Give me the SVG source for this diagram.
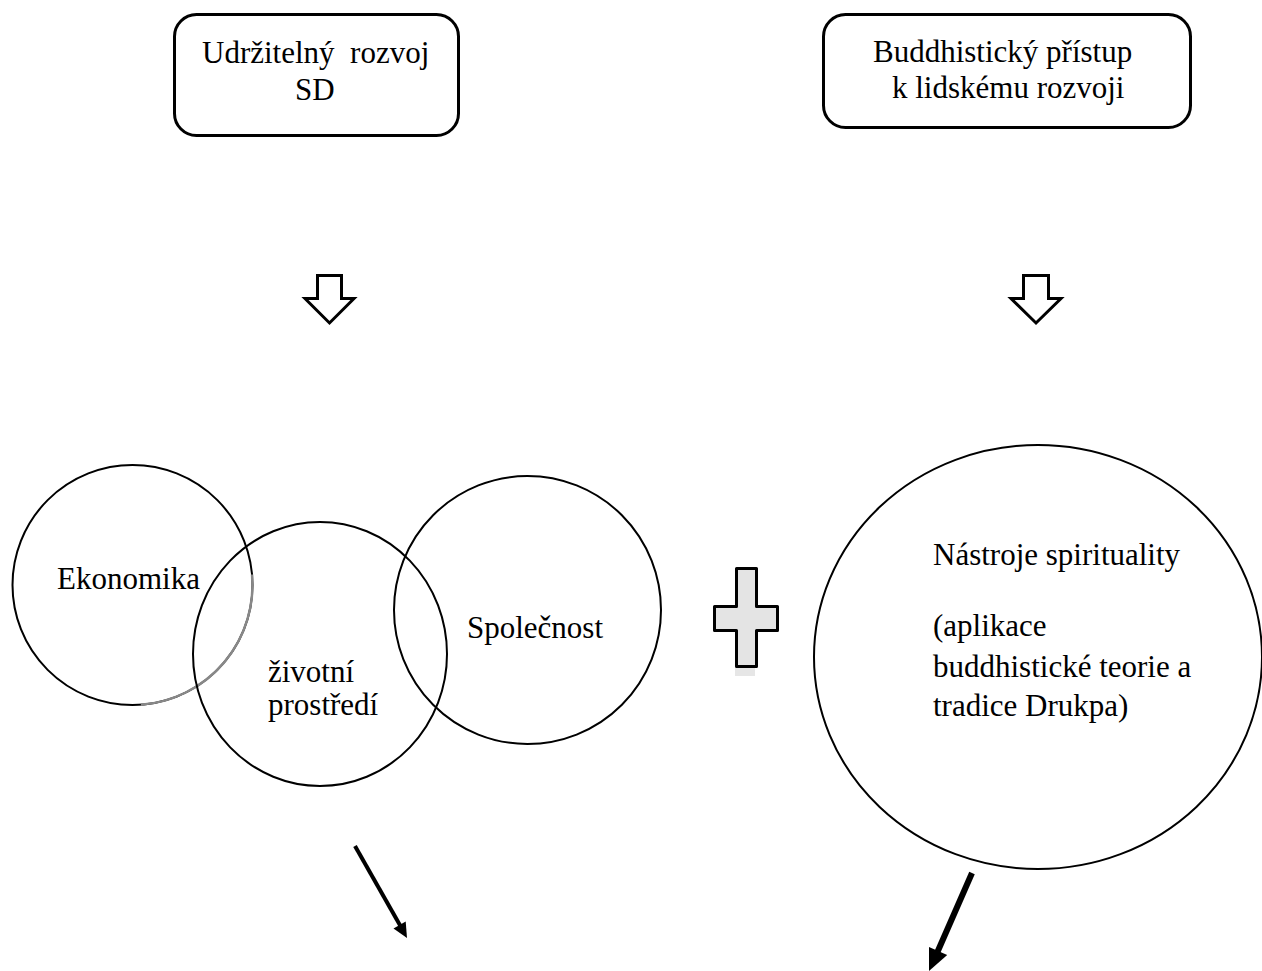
<svg xmlns="http://www.w3.org/2000/svg" width="1262" height="971" viewBox="0 0 1262 971">
<style>
text{font-family:"Liberation Serif","Times New Roman",serif;font-size:31px;fill:#000;white-space:pre}
.box{fill:#fff;stroke:#000;stroke-width:3}
.ring{fill:none;stroke:#000;stroke-width:2}
.block{fill:#fff;stroke:#000;stroke-width:3;stroke-linejoin:miter}
.line{stroke:#000;fill:none}
</style>
<rect width="1262" height="971" fill="#fff"/>
<g id="box-sd">
<rect class="box" x="174.5" y="14.5" width="284" height="121" rx="22"/>
<text x="202" y="63" xml:space="preserve">Udržitelný  rozvoj</text>
<text x="295" y="100">SD</text>
</g>
<g id="box-buddhist">
<rect class="box" x="823.5" y="14.5" width="367" height="113" rx="22"/>
<text x="873" y="62">Buddhistický přístup</text>
<text x="892" y="98">k lidskému rozvoji</text>
</g>
<g id="circle-ekonomika">
<ellipse class="ring" cx="132.5" cy="585" rx="120" ry="120"/>
<path d="M252,574.5 A120,120 0 0 1 140.9,704.7" fill="none" stroke="#888" stroke-width="2.4"/>
<text x="57" y="589">Ekonomika</text>
</g>
<g id="circle-zivotni">
<ellipse class="ring" cx="320" cy="654" rx="127" ry="132"/>
<text x="268" y="682">životní</text>
<text x="268" y="715">prostředí</text>
</g>
<g id="circle-spolecnost">
<ellipse class="ring" cx="527.5" cy="610" rx="133.5" ry="134"/>
<text x="467" y="638">Společnost</text>
</g>
<g id="plus">
<rect x="735" y="668" width="20" height="8" fill="#e6e6e6"/>
<path d="M736.5,568.5 H756.5 V606.5 H777.5 V630.5 H756.5 V666.5 H736.5 V630.5 H714.5 V606.5 H736.5 Z" fill="#e4e4e4" stroke="#000" stroke-width="3" stroke-linejoin="round"/>
</g>
<g id="ellipse-spirituality">
<ellipse class="ring" cx="1038" cy="657" rx="224" ry="212"/>
<text x="933" y="565">Nástroje spirituality</text>
<text x="933" y="636">(aplikace</text>
<text x="933" y="677">buddhistické teorie a</text>
<text x="933" y="716">tradice Drukpa)</text>
</g>
<g id="connectors">
<path class="block" d="M317.5,275.5 H341.5 V298.5 H354 L329.5,323 L305,298.5 H317.5 Z"/>
<path class="block" d="M1023.5,275.5 H1048.5 V298.5 H1061 L1036,323 L1011,298.5 H1023.5 Z"/>
<line class="line" x1="355" y1="846" x2="401" y2="927" stroke-width="4"/>
<polygon points="407,938 393.5,928.4 405.7,921.5" fill="#000"/>
<line class="line" x1="972" y1="873" x2="937" y2="953" stroke-width="6"/>
<polygon points="929,971 929,946.9 947.2,955.1" fill="#000"/>
</g>
</svg>
